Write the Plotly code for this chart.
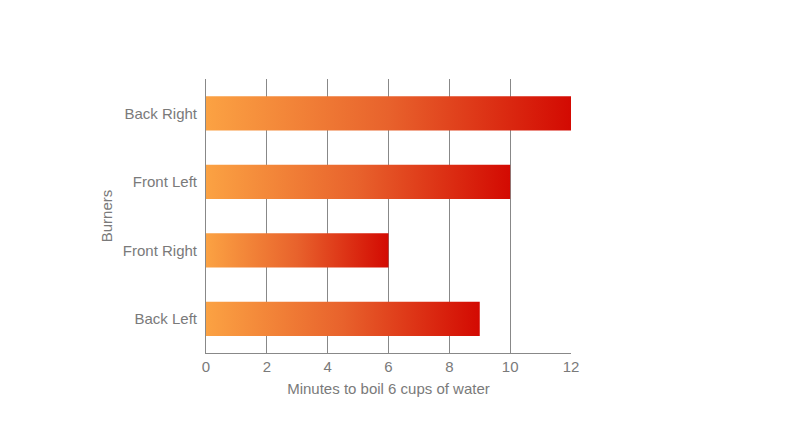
import plotly.graph_objects as go

# data, bottom to top as drawn
burners = ["Back Left", "Front Right", "Front Left", "Back Right"]
minutes = [9, 6, 10, 12]
x_ticks = [0, 2, 4, 6, 8, 10, 12]

bar_half = 0.25
grad = [[0, "#FBA243"], [0.5, "#E8622C"], [1, "#D30A02"]]

fig = go.Figure()

for i, (name, val) in enumerate(zip(burners, minutes)):
    fig.add_trace(go.Scatter(
        x=[0, val, val, 0, 0],
        y=[i - bar_half, i - bar_half, i + bar_half, i + bar_half, i - bar_half],
        mode="lines",
        line=dict(width=0),
        fill="toself",
        fillgradient=dict(type="horizontal", colorscale=grad),
        name=name,
        hoverinfo="text",
        text=f"{name}: {val}",
        showlegend=False,
    ))

fig.update_layout(
    width=792,
    height=436,
    margin=dict(l=198, r=229, t=71, b=91),
    plot_bgcolor="white",
    paper_bgcolor="white",
    font=dict(family="Liberation Sans, Arial, sans-serif", size=15, color="#7a7a7a"),
)

fig.update_xaxes(
    range=[0, 12],
    tickvals=x_ticks,
    tickfont=dict(size=15),
    showgrid=True,
    gridcolor="#888888",
    gridwidth=1,
    showline=True,
    linecolor="#888888",
    linewidth=1,
    zeroline=False,
    ticks="",
    title=dict(text="Minutes to boil 6 cups of water", standoff=9, font=dict(size=15)),
)

fig.update_yaxes(
    range=[-0.5, 3.5],
    tickvals=list(range(len(burners))),
    ticktext=burners,
    tickfont=dict(size=15),
    showgrid=False,
    showline=True,
    linecolor="#888888",
    linewidth=1,
    zeroline=False,
    ticks="outside",
    ticklen=5,
    tickcolor="white",
    title=dict(text="Burners", standoff=6, font=dict(size=15)),
)

fig.write_html("out.html")
